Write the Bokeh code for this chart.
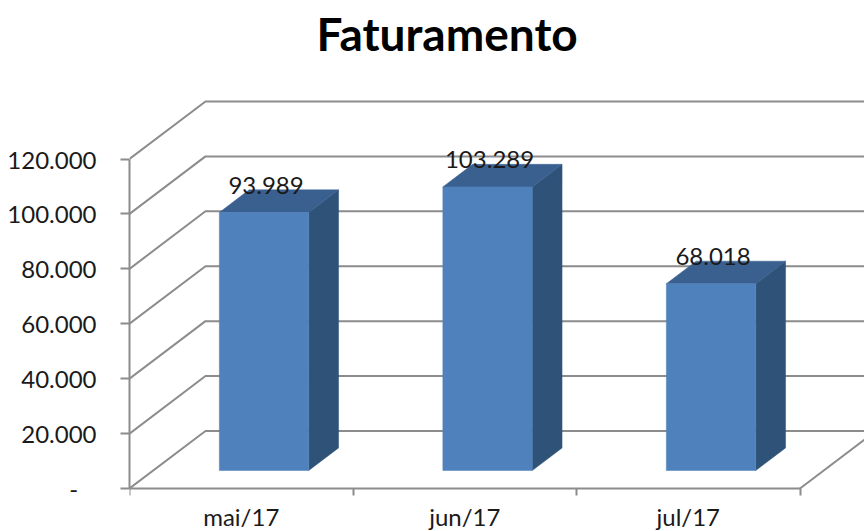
from bokeh.plotting import figure
from bokeh.models import FixedTicker, ColumnDataSource
from bokeh.embed import file_html
from bokeh.resources import INLINE
from bokeh.core.properties import value

categories = ["mai/17", "jun/17", "jul/17"]
faturamento = [93989, 103289, 68018]
value_labels = ["93.989", "103.289", "68.018"]
y_ticks = [0, 20000, 40000, 60000, 80000, 100000, 120000]
y_tick_labels = ["-", "20.000", "40.000", "60.000", "80.000", "100.000", "120.000"]
title_text = "Faturamento"

# oblique projection of the 3D column chart, in data units per unit of depth
DEPTH_X = 0.34
DEPTH_Y = 20950
BAR_DEPTH_FRONT = 0.30
BAR_DEPTH_BACK = 0.692
BAR_WIDTH = 0.4

GREY = "#8c8c8c"
FONT = "Lato"

# frame: top at 60 px, zero line at 488 px, bottom at 531 px of the figure; 329.5 px = 120000
PX = 120000 / 329.5
p = figure(width=864, height=531, output_backend="svg", toolbar_location=None,
           x_range=(0, 735 / 223.5), y_range=(-43 * PX, 428 * PX),
           min_border_left=129, min_border_right=0, min_border_top=60, min_border_bottom=0,
           outline_line_color=None, background_fill_color="white",
           title=title_text)
p.grid.visible = False

p.title.text_font = FONT
p.title.text_font_size = "46px"
p.title.text_font_style = "bold"
p.title.text_color = "#000000"
p.title.align = "left"
p.title.offset = 187
p.title.standoff = 0

# axes
ax = p.yaxis[0]
ax.bounds = (0, 120000)
ax.ticker = FixedTicker(ticks=y_ticks)
ax.major_label_overrides = {t: (l if l != "-" else l + "\u00a0\u00a0\u00a0") for t, l in zip(y_ticks, y_tick_labels)}
ax.major_label_text_font = FONT
ax.major_label_text_font_size = "24px"
ax.major_label_text_color = "#1a1a1a"
ax.major_label_standoff = 24
ax.major_tick_in = 0
ax.major_tick_out = 9
ax.minor_tick_line_color = None
ax.axis_line_color = GREY
ax.axis_line_width = 2
ax.major_tick_line_color = GREY
ax.major_tick_line_width = 2

n = len(categories)
xa = p.xaxis[0]
xa.fixed_location = 0
xa.bounds = (0, n)
centres = [i + 0.5 for i in range(n)]
xa.ticker = FixedTicker(ticks=centres, minor_ticks=list(range(n + 1)))
xa.major_label_overrides = dict(zip(centres, categories))
xa.major_label_text_font = FONT
xa.major_label_text_font_size = "24px"
xa.major_label_text_color = "#1a1a1a"
xa.major_label_standoff = 6
xa.major_tick_line_color = None
xa.minor_tick_in = 0
xa.minor_tick_out = 7
xa.minor_tick_line_color = GREY
xa.minor_tick_line_width = 2
xa.axis_line_color = GREY
xa.axis_line_width = 2

# wall grid lines: from the front edge back along the side wall, then along the back wall
xs, ys = [], []
for t in y_ticks:
    xs.append([0, DEPTH_X, n + DEPTH_X + 1])
    ys.append([t, t + DEPTH_Y, t + DEPTH_Y])
p.multi_line(xs, ys, line_color=GREY, line_width=2)
# right edge of the floor
p.line([n, n + DEPTH_X], [0, DEPTH_Y], line_color=GREY, line_width=2)

# bars
fx0 = [c + BAR_DEPTH_FRONT * DEPTH_X - BAR_WIDTH / 2 for c in centres]
fx1 = [x + BAR_WIDTH for x in fx0]
by0 = 0.313 * DEPTH_Y
dx = (BAR_DEPTH_BACK - BAR_DEPTH_FRONT) * DEPTH_X
dy = (BAR_DEPTH_BACK - BAR_DEPTH_FRONT) * DEPTH_Y

p.patches([[b, b + dx, b + dx, b] for b in fx1],
          [[by0, by0 + dy, by0 + dy + v, by0 + v] for v in faturamento],
          fill_color="#2f5279", line_color="#2f5279", line_width=0.5)
p.patches([[a, a + dx, b + dx, b] for a, b in zip(fx0, fx1)],
          [[by0 + v, by0 + v + dy, by0 + v + dy, by0 + v] for v in faturamento],
          fill_color="#3a6090", line_color="#3a6090", line_width=0.5)
p.quad(left=fx0, right=fx1, bottom=by0, top=[by0 + v for v in faturamento],
       fill_color="#4f81bd", line_color="#4f81bd", line_width=0.5)

src = ColumnDataSource(dict(x=[(a + b) / 2 for a, b in zip(fx0, fx1)],
                            y=[by0 + v for v in faturamento], t=value_labels))
p.text(x="x", y="y", text="t", source=src, text_align="center", text_baseline="middle",
       text_font=value(FONT), text_font_size="24px", text_color="#1a1a1a", x_offset=2, y_offset=-27)

open("out.html", "w").write(file_html(p, INLINE))
